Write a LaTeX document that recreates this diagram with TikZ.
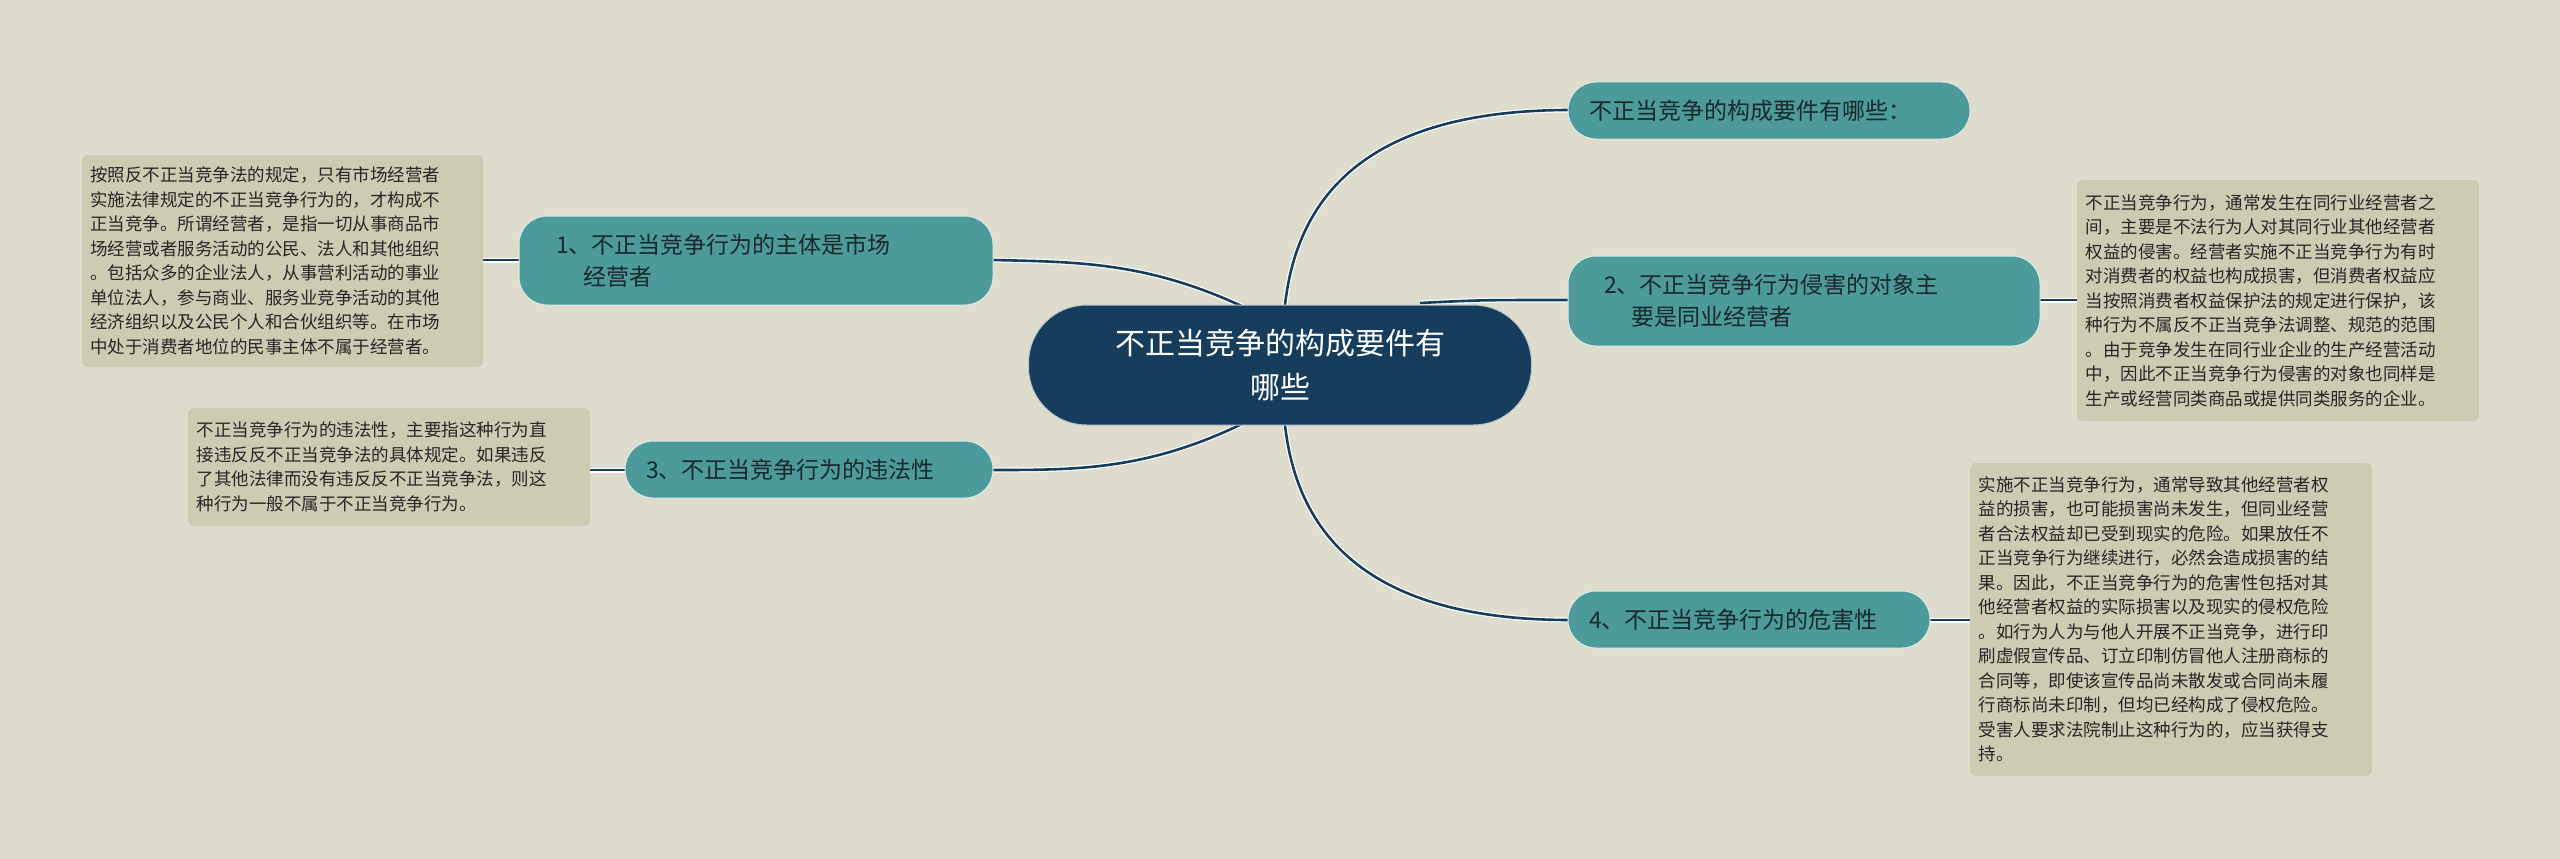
\documentclass[tikz,border=0pt]{standalone}
\usepackage{fontspec}
\setmainfont{Noto Sans CJK SC}
\begin{document}
\begin{tikzpicture}[x=1pt,y=-1pt,
  note/.style={fill=notec,rounded corners=6pt,inner sep=0pt,text=black!85,font=\fontsize{17.5}{24.5}\selectfont,align=left},
  branch/.style={fill=teal2,draw=white!80!teal2,line width=1pt,rounded corners=28pt,text=darkt,font=\fontsize{23}{32}\selectfont,align=left,inner sep=0pt},
  link/.style={draw=white,line width=5pt},
  linki/.style={draw=navy,line width=2.6pt}]
\definecolor{bg}{RGB}{222,220,204}
\definecolor{notec}{RGB}{205,203,178}
\definecolor{teal2}{RGB}{76,154,154}
\definecolor{navy}{RGB}{23,61,92}
\definecolor{darkt}{RGB}{25,40,45}
\fill[bg] (0,0) rectangle (2560,859);
\useasboundingbox (0,0) rectangle (2560,859);
% connectors
\coordinate (c1) at (1250,310);
\coordinate (c3) at (1250,420);
\coordinate (ct) at (1285,305);
\coordinate (cb) at (1285,425);
\coordinate (c2) at (1420,303);
\foreach \s in {link,linki}{
\draw[\s] (c1) .. controls (1150,262) and (1080,262) .. (993,260);
\draw[\s] (c3) .. controls (1150,470) and (1080,470) .. (993,470);
\draw[\s] (ct) .. controls (1300,170) and (1400,110) .. (1570,110);
\draw[\s] (cb) .. controls (1300,560) and (1400,620) .. (1570,620);
\draw[\s] (c2) .. controls (1480,300) .. (1570,300);
\draw[\s] (483,260) -- (519,260);
\draw[\s] (590,470) -- (625,470);
\draw[\s] (2040,300) -- (2077,300);
\draw[\s] (1930,620) -- (1970,620);
}
% center
\node[fill=navy,draw=white!70!navy,line width=1pt,rounded corners=58pt,minimum width=503pt,minimum height=120pt,text=white,align=center,font=\fontsize{30}{44}\selectfont] (center) at (1280,365) {不正当竞争的构成要件有\\哪些};
% branches
\node[branch,minimum width=402pt,minimum height=57pt,text width=360pt] (b0) at (1769,110.5) {不正当竞争的构成要件有哪些：};
\node[branch,minimum width=472pt,minimum height=90pt,text width=400pt] (b2) at (1804,301) {2、不正当竞争行为侵害的对象主\\\hspace*{1.2em}要是同业经营者};
\node[branch,minimum width=362pt,minimum height=57pt,text width=320pt] (b4) at (1749,619.5) {4、不正当竞争行为的危害性};
\node[branch,minimum width=474pt,minimum height=89pt,text width=400pt] (b1) at (756,260.5) {1、不正当竞争行为的主体是市场\\\hspace*{1.2em}经营者};
\node[branch,minimum width=368pt,minimum height=57pt,text width=326pt] (b3) at (809,469.5) {3、不正当竞争行为的违法性};
% notes
\node[note,minimum width=401pt,minimum height=212pt] (n1) at (282.5,261) {\parbox{385pt}{按照反不正当竞争法的规定，只有市场经营者\\实施法律规定的不正当竞争行为的，才构成不\\正当竞争。所谓经营者，是指一切从事商品市\\场经营或者服务活动的公民、法人和其他组织\\。包括众多的企业法人，从事营利活动的事业\\单位法人，参与商业、服务业竞争活动的其他\\经济组织以及公民个人和合伙组织等。在市场\\中处于消费者地位的民事主体不属于经营者。}};
\node[note,minimum width=402pt,minimum height=118pt] (n3) at (389,467) {\parbox{385pt}{不正当竞争行为的违法性，主要指这种行为直\\接违反反不正当竞争法的具体规定。如果违反\\了其他法律而没有违反反不正当竞争法，则这\\种行为一般不属于不正当竞争行为。}};
\node[note,minimum width=402pt,minimum height=241pt] (n2) at (2278,300.5) {\parbox{385pt}{不正当竞争行为，通常发生在同行业经营者之\\间，主要是不法行为人对其同行业其他经营者\\权益的侵害。经营者实施不正当竞争行为有时\\对消费者的权益也构成损害，但消费者权益应\\当按照消费者权益保护法的规定进行保护，该\\种行为不属反不正当竞争法调整、规范的范围\\。由于竞争发生在同行业企业的生产经营活动\\中，因此不正当竞争行为侵害的对象也同样是\\生产或经营同类商品或提供同类服务的企业。}};
\node[note,minimum width=402pt,minimum height=313pt] (n4) at (2171,619.5) {\parbox{385pt}{实施不正当竞争行为，通常导致其他经营者权\\益的损害，也可能损害尚未发生，但同业经营\\者合法权益却已受到现实的危险。如果放任不\\正当竞争行为继续进行，必然会造成损害的结\\果。因此，不正当竞争行为的危害性包括对其\\他经营者权益的实际损害以及现实的侵权危险\\。如行为人为与他人开展不正当竞争，进行印\\刷虚假宣传品、订立印制仿冒他人注册商标的\\合同等，即使该宣传品尚未散发或合同尚未履\\行商标尚未印制，但均已经构成了侵权危险。\\受害人要求法院制止这种行为的，应当获得支\\持。}};
\end{tikzpicture}
\end{document}
